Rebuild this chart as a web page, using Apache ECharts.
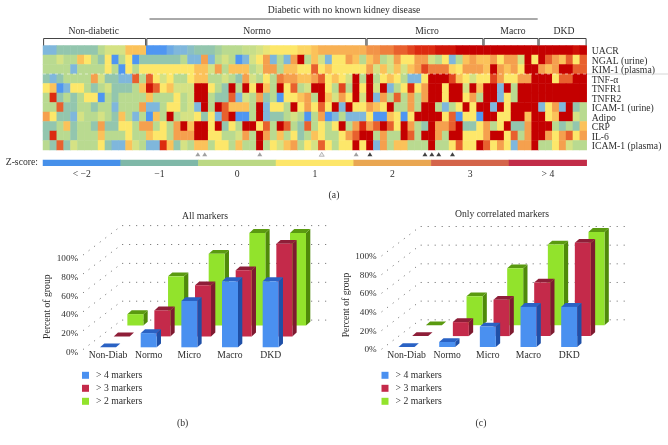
<!DOCTYPE html>
<html><head><meta charset="utf-8">
<style>html,body{margin:0;padding:0;background:#fff}#c{width:668px;height:445px}</style>
<script src="https://cdn.jsdelivr.net/npm/echarts@6/dist/echarts.min.js"></script>
</head><body><div id="c"></div>
<script>
const markers = ['UACR','NGAL (urine)','KIM-1 (plasma)','TNF-α','TNFR1','TNFR2','ICAM-1 (urine)','Adipo','CRP','IL-6','ICAM-1 (plasma)'];
// colour-step score of each heat map cell, 0 = z < -2 ... 10 = z > 4, one array per marker, 79 subjects
const uacr = [1,1,2,2,2,2,2,2,3,4,4,4,6,6,6, 0,0,0,.6,1,1,1.5,2,2,2,2.5,3,3,3,3.5,3.5,4,4.5,5,5,5,5,5.5,5.5,6,6.5,6.5,6.5,6.5,6.5,6.5,6.5, 7.2,7.2,7.5,7.5,8,8,8.5,9,9,9,9.5,9.5,9.5,10,10,10,10, 10,10,10,10,10,10,10,10, 10,10,10,10,10,9.6,10];
const ngal = [3,3,4,3,3,6,5,3,2,5,0,3,5,0,2, 2,2,2,2,2,3,1,1,7,1,3,4,3,0,1,4,5,7,1,3,1,7,10,3,6,4,1,5,5,7,6,3, 6,7,3,4,7,5,5,7,7,4,3,5,1,3,6,7,6, 6,7,5,7,7,4,10,5, 10,8,7,6,8,5,8];
const kim1 = [3,3,3,3,1,3,3,3,3,5,3,0,5,3,5, 5,5,5,5,5,5,5,6,6,4,7,3,6,6,6,3,4,7,7,3,6,6,5,5,8,5,6,5,5,5,5,5, 7,4,6,4,6,4,6,7,8.5,7.5,7.5,7.5,5.5,5,7,7,7, 6,10,7,6,7,5,10,10, 7,6,7,10,10,8,8];
const tnfa = [2,1,2,3,3,3,3,7,4,2,2,1,1,8,3, 8,5,4,5,3,3,5,6,6,3,3,4,3,2,7,4,3,5,3,7.5,7,7,6,6,7,8,5,6,5,4,10,3, 10,3,5,6,5,3,1,1,5,10,10,10,8.5,6,5,4,5, 5,8.5,7,5,5,7,7,10, 10,10,5,8,8,10,10];
const tnfr1 = [5,6,0,1,5,5,3,2,3,4,2,2,2,3,6, 9.5,8,5,6,4,4,4,10,10,5,3,2,10,3,10,5,10,6,3,10,5,8,3,4,10,10,5,3,8.5,3,10,5, 10,4,10,1,3,5,9,5,7,10,10,5,10,10,4,10,6, 10,10,1,10,3,10,10,10, 10,10,10,10,10,10,10];
const tnfr2 = [3,9,2,3,2,3,5,5,0,3,2,3,3,3,3, 6,3,3,3,5,3,4,10,10,3,2,2,8,1,4,3,7,2,3,0,5,5,6,7,3,10,6,4,7,5,10,4, 10,1,7,3,8,3,7,3,7,10,10,5,10,10,5,7,3, 10,10,1,5,3,10,10,10, 10,10,10,10,10,10,10];
const icamUrine = [3,3,8,2,2,3,3,2,3,3,1,3,3,3,7, 1,1,3,5,5,3,4,1,10,3,10,8,6,6,6,3,10,1,5,5,3,10,5,7,5,8,5,10,1,10,5,5, 7,6,5,10,3,3,7,3,10,10,3,1,3,5,10,5,10, 10,1,10,5,10,10,10,10, 1,5,7,1,10,2,3];
const adipo = [7,5,2,2,1,4,3,3,4,3,2,6,3,1,3, 0,6,3,10,3,4,4,5,2,5,1,8,10,0,0,3,10,1,2,2,3,4,3,0,3,7,0,1,3,1,1,1, 5,0,0,6,5,0,5,10,10,10,10,5,8,0,5,5,0, 10,10,5,5,10,10,6,10, 10,5,6,10,10,4,3];
const crp = [2,2,3,6,2,3,3,2,7,2,2,5,5,3,7, 7,3,5,3,7,10,6,10,10,5,10,2,5,3,10,10,5,8,3,10,8,3,2,8,3,5,3,5,10,3,7,9, 7,8,10,8,5,10,7,3,2,10,7,7,8,10,2,2,5, 7,3,5,10,2,2,7,10, 10,10,3,2,3,2,6];
const il6 = [2,9,3,3,2,3,3,3,6,3,3,3,5,3,3, 6,5,5,3,7,7,7,10,10,5,5,3,3,4,7,3,10,7,3,6,3,5,2,3,6,5,3,3,5,7,8,10, 10,3,7,3,3,10,8,3,10,10,7,3,10,10,5,5,5, 7,10,10,5,8,3,7,10, 10,7,5,7,8,5,7];
const icamPlasma = [3,2,8,2,4,3,3,3,5,2,1,1,6,4,3, 1,1,9,6,2,4,3,6,6,3,5,5,3,6,3,3,10,3,5,4,6,7,3,5,4,8,5,3,5,5,10,5, 10,1,7,3,6,6,3,3,3,10,3,3,5,8,5,5,10, 8,5,7,5,1,7,7,10, 3,3,5,7,4,3,3];
const heatRows = [uacr,ngal,kim1,tnfa,tnfr1,tnfr2,icamUrine,adipo,crp,il6,icamPlasma];
const groupNames = ['Non-diabetic','Normo','Micro','Macro','DKD'];
const groupSizes = [15,32,17,8,7];
const greyTriangles = [22,23,31,45];
const openTriangles = [40];
const blackTriangles = [47,55,56,57,59];
const zLabels = ['< −2','−1','0','1','2','3','> 4'];
const barCategories = ['Non-Diab','Normo','Micro','Macro','DKD'];
const seriesNames = ['> 4 markers','> 3 markers','> 2 markers'];
const allFour = [0,15,49,70,70];
const allThree = [0,27.5,54,70,98];
const allTwo = [12,52,76,98,98];
const corrFour = [0,5.4,22,43,43];
const corrThree = [0,15,39,57.5,100];
const corrTwo = [0,31,61,86.5,100];

const FONT = '"Liberation Serif", serif', INK = '#2e2e2e', SIZE = 9.7;
const heatColors = ['#4f96f2','#7fb7dc','#93c6ae','#b9da90','#d5e284','#fde76a','#fbc25a','#f5a04e','#e8602e','#dc2a10','#c40000'];
const zColors = ['#4690ea','#7fb8a8','#bbd884','#fde66a','#e9a652','#d4644a','#c22c48'];
const barPalette = [
  {front:'#4a90f0',side:'#1f50a8',top:'#2a62c4'},
  {front:'#c42a4a',side:'#7e1a30',top:'#8e1e38'},
  {front:'#92e32c',side:'#4f8a0a',top:'#5a9a10'}
];
const txt = {fontFamily:FONT,fontSize:SIZE,color:INK};

const heatData = [];
heatRows.forEach((row,r)=>row.forEach((v,c)=>heatData.push([c,r,v])));
const cols = uacr.map((_,i)=>String(i));

const brackets = []; let start = 0;
groupSizes.forEach(n=>{brackets.push([start,start+n-1]);start+=n;});

function renderBracket(params,api){
  const s = api.size([1,1]);
  const a = api.coord([api.value(0),0]), b = api.coord([api.value(1),0]);
  const x0 = a[0]-s[0]/2+0.6, x1 = b[0]+s[0]/2-0.6, y1 = a[1]-s[1]/2, y0 = y1-7;
  return {type:'polyline',shape:{points:[[x0,y1],[x0,y0],[x1,y0],[x1,y1]]},style:{stroke:'#444',lineWidth:1,fill:null}};
}
function makeBar(k){
  const c = barPalette[k];
  return function(params,api){
    const cat = api.value(0), v = api.value(1);
    const top = api.coord([cat,v]), base = api.coord([cat,0]);
    const sx = k*13.67, sy = -k*10.9, hw = 8, dx = 4.3, dy = -3.8;
    const l = top[0]+sx-hw, r = top[0]+sx+hw, t = top[1]+sy, b = base[1]+sy;
    return {type:'group',children:[
      {type:'polygon',shape:{points:[[r,t],[r+dx,t+dy],[r+dx,b+dy],[r,b]]},style:{fill:c.side}},
      {type:'polygon',shape:{points:[[l,t],[l+dx,t+dy],[r+dx,t+dy],[r,t]]},style:{fill:c.top}},
      {type:'rect',shape:{x:l,y:t,width:hw*2,height:b-t},style:{fill:c.front}}
    ]};
  };
}
function renderWall(params,api){
  const v = api.value(0);
  const p = api.coord([0,v]), s = api.size([1,0]);
  const left = p[0]-s[0]/2;
  const pts = [[left-4.6,p[1]+2.2],[left+34,p[1]-27.2],[left+240,p[1]-27.2]];
  return {type:'polyline',shape:{points:pts},style:{stroke:'#666',lineWidth:1,lineDash:[1,6],fill:null}};
}
function panelSeries(axis,vals){
  const list = [{type:'custom',xAxisIndex:axis,yAxisIndex:axis,silent:true,data:[0,20,40,60,80,100].map(v=>[v]),encode:{y:0},renderItem:renderWall,z:1}];
  [2,1,0].forEach(k=>list.push({type:'custom',name:seriesNames[k],xAxisIndex:axis,yAxisIndex:axis,itemStyle:{color:barPalette[k].front},
    data:vals[k].map((v,i)=>[i,v]),encode:{x:0,y:1},renderItem:makeBar(k),z:3-k+1}));
  return list;
}
function triangles(data,color,border){
  return {type:'scatter',xAxisIndex:0,yAxisIndex:0,clip:false,silent:true,symbol:'triangle',symbolSize:[5,4],symbolOffset:[0,9],
    data:data.map(c=>[c,10]),itemStyle:{color:color,borderColor:border,borderWidth:border===color?0:0.7}};
}
function barX(left){return {gridIndex:left,type:'category',data:barCategories,axisLine:{show:false},axisTick:{show:false},
  axisLabel:{...txt,interval:0,margin:3}};}
function barY(idx,lh){return {gridIndex:idx,type:'value',min:0,max:100,interval:20,splitLine:{show:false},axisLine:{show:false},axisTick:{show:false},
  axisLabel:{...txt,fontSize:9.2,margin:9.5,formatter:'{value}%',verticalAlign:'top',lineHeight:lh}};}
function legendAt(left){return {orient:'vertical',left:left,top:370.3,padding:0,icon:'rect',itemWidth:7,itemHeight:7,itemGap:3,selectedMode:false,
  data:seriesNames,textStyle:{...txt,padding:[0,0,0,2]}};}
function label(text,x,y,extra){return {type:'text',x:x,y:y,z:100,style:{text:text,fontFamily:FONT,fontSize:SIZE,fill:INK,align:'center',verticalAlign:'middle',...extra}};}

const chart = echarts.init(document.getElementById('c'),null,{renderer:'canvas'});
chart.setOption({
  animation:false,
  backgroundColor:'#fff',
  grid:[
    {left:43,top:45.5,width:543.7,height:104.5},
    {left:43,top:160,width:543.7,height:5.7},
    {left:87.7,top:252.8,width:203.3,height:94.5},
    {left:386.2,top:253.7,width:203.3,height:93.3}
  ],
  xAxis:[
    {gridIndex:0,type:'category',data:cols,axisLine:{show:false},axisTick:{show:false},axisLabel:{show:false}},
    {gridIndex:1,type:'category',data:zLabels,axisLine:{show:false},axisTick:{show:false},axisLabel:{...txt,margin:4,interval:0}},
    barX(2),barX(3)
  ],
  yAxis:[
    {gridIndex:0,type:'category',data:markers,inverse:true,position:'right',axisLine:{show:false},axisTick:{show:false},axisLabel:{...txt,margin:5,interval:0,verticalAlign:'top',lineHeight:3}},
    {gridIndex:1,type:'category',data:['Z-score:'],axisLine:{show:false},axisTick:{show:false},axisLabel:{...txt,margin:5}},
    barY(2,11),barY(3,6)
  ],
  visualMap:[
    {type:'continuous',show:false,seriesIndex:0,dimension:2,min:0,max:10,inRange:{color:heatColors}},
    {type:'continuous',show:false,seriesIndex:1,dimension:2,min:0,max:6,inRange:{color:zColors}}
  ],
  legend:[legendAt(82),legendAt(381.5)],
  series:[
    {type:'heatmap',xAxisIndex:0,yAxisIndex:0,data:heatData,silent:true,progressive:0},
    {type:'heatmap',xAxisIndex:1,yAxisIndex:1,data:zLabels.map((_,i)=>[i,0,i]),silent:true},
    {type:'custom',xAxisIndex:0,yAxisIndex:0,silent:true,clip:false,data:brackets,encode:{x:[0,1]},renderItem:renderBracket},
    triangles(greyTriangles,'#8a8a8a','#8a8a8a'),
    triangles(openTriangles,'#e8e8e8','#8a8a8a'),
    triangles(blackTriangles,'#111','#111'),
    ...panelSeries(2,[allFour,allThree,allTwo]),
    ...panelSeries(3,[corrFour,corrThree,corrTwo])
  ],
  graphic:[
    label('Diabetic with no known kidney disease',344,10.5),
    {type:'line',z:100,shape:{x1:149.5,y1:19,x2:537.7,y2:19},style:{stroke:'#555',lineWidth:1}},
    {type:'line',z:100,shape:{x1:43,y1:74,x2:587,y2:74},style:{stroke:'#fff',lineWidth:0.8,lineDash:[3,3],opacity:.7}},
    {type:'line',z:100,shape:{x1:587,y1:74,x2:668,y2:74},style:{stroke:'#ccc',lineWidth:0.8}},
    label(groupNames[0],93.7,31.5),label(groupNames[1],257,31.5),label(groupNames[2],427,31.5),label(groupNames[3],513,31.5),label(groupNames[4],564,31.5),
    label('(a)',334,195),label('(b)',182.7,423),label('(c)',481,423),
    label('All markers',205,216),label('Only correlated markers',502,214.5),
    {...label('Percent of group',47,306.7),rotation:Math.PI/2},
    {...label('Percent of group',346,305),rotation:Math.PI/2}
  ]
});
</script></body></html>
